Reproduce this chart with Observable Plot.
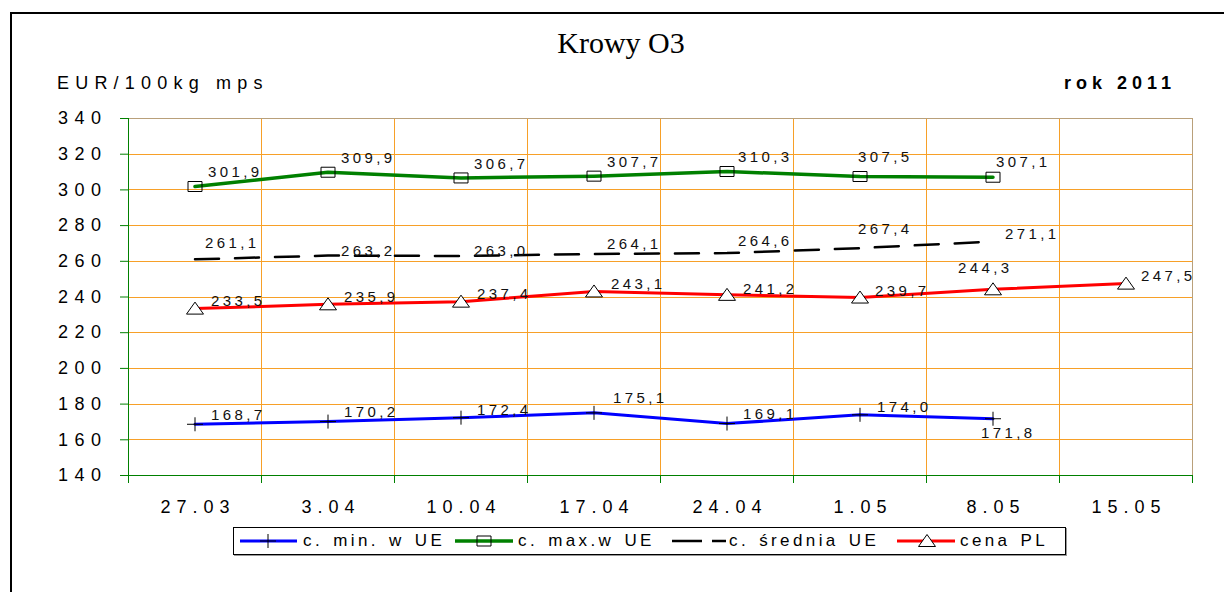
<!DOCTYPE html>
<html><head><meta charset="utf-8">
<script src="https://cdn.jsdelivr.net/npm/d3@7"></script>
<script src="https://cdn.jsdelivr.net/npm/@observablehq/plot@0.6"></script>
<style>
body{margin:0;background:#fff;}
#wrap{position:relative;width:1224px;height:592px;overflow:hidden;font-family:"Liberation Sans",Arial,sans-serif;color:#000;}
#frame{position:absolute;left:10px;top:12px;width:1400px;height:800px;border-left:2px solid #000;border-top:2px solid #000;}
#chart{position:absolute;left:0;top:0;}
#title{position:absolute;left:0;width:1242px;top:26px;text-align:center;font-family:"Liberation Serif","Times New Roman",serif;font-size:30px;}
#unit{position:absolute;left:57px;top:73px;font-size:18px;letter-spacing:6.2px;}
#year{position:absolute;right:48px;top:73px;font-size:18px;font-weight:bold;letter-spacing:5px;}
#legend{position:absolute;left:233px;top:527px;width:831px;height:26px;border:1px solid #000;box-shadow:1px 1px 0 #999;}
.lt{position:absolute;top:531px;font-size:17px;letter-spacing:3.4px;word-spacing:2px;white-space:pre;}
svg text{font-family:"Liberation Sans",Arial,sans-serif;}
g[aria-label="y-axis tick label"] text{letter-spacing:6.5px;}
g[aria-label="x-axis tick label"] text{letter-spacing:6px;}
g[aria-label="text"] text{letter-spacing:3.4px;}
g[aria-label="rule"] line{shape-rendering:crispEdges;}
</style></head>
<body>
<div id="wrap">
  <div id="chart"></div>
  <div id="frame"></div>
  <div id="title">Krowy O3</div>
  <div id="unit">EUR/100kg mps</div>
  <div id="year">rok 2011</div>
  <div id="legend"></div>
</div>
<script>
// ---- data ----
const categories = ["27.03", "3.04", "10.04", "17.04", "24.04", "1.05", "8.05", "15.05"];
const minUE   = [168.7, 170.2, 172.4, 175.1, 169.1, 174.0, 171.8];
const maxUE   = [301.9, 309.9, 306.7, 307.7, 310.3, 307.5, 307.1];
const avgUE   = [261.1, 263.2, 263.0, 264.1, 264.6, 267.4, 271.1];
const pricePL = [233.5, 235.9, 237.4, 243.1, 241.2, 239.7, 244.3, 247.5];
const yTicks  = [140, 160, 180, 200, 220, 240, 260, 280, 300, 320, 340];
const seriesNames = ["c. min. w UE", "c. max.w UE", "c. średnia UE", "cena PL"];

// ---- rendering ----
const rows = vals => vals.map((v, i) => ({i, cat: categories[i], v}));
const fmt = v => v.toFixed(1).replace(".", ",");
const bounds = d3.range(categories.length + 1).map(i => i - 0.5);
const centers = d3.range(categories.length);

const ORANGE = "#f7a028", TAN = "#b9a07a", GREEN_AX = "#008000";

const plusSym = {draw(c){c.moveTo(-8,0);c.lineTo(8,0);c.moveTo(0,-7);c.lineTo(0,7);}};
const rectSym = {draw(c){c.rect(-7,-5,14,10);}};
const triSym  = {draw(c){c.moveTo(0,-6.5);c.lineTo(8.5,5.5);c.lineTo(-8.5,5.5);c.closePath();}};

const series = [
  {vals: minUE, stroke: "#0000ff", width: 3, sym: plusSym, fill: "none",
   off: [[16,-9],[16,-9],[16,-7],[19,-15],[16,-9],[17,-8],[-12,14]]},
  {vals: maxUE, stroke: "#008000", width: 3.5, sym: rectSym, fill: "none",
   off: [[13,-14],[13,-14],[13,-14],[13,-14],[11,-14],[-2,-19],[3,-15]]},
  {vals: avgUE, stroke: "#000", width: 2.5, dash: "24,16", sym: null,
   off: [[10,-16],[13,-4],[13,-5],[13,-10],[11,-12],[-2,-19],[12,-7]]},
  {vals: pricePL, stroke: "#ff0000", width: 3, sym: triSym, fill: "#fff",
   off: [[16,-7],[16,-7],[16,-7],[17,-7],[16,-6],[15,-6],[-35,-21],[15,-7]]}
];

const marks = [
  Plot.ruleY(yTicks.slice(1, -1), {stroke: ORANGE, strokeWidth: 1}),
  Plot.ruleX(bounds.slice(1, -1), {stroke: ORANGE, strokeWidth: 1}),
  Plot.ruleY([yTicks[yTicks.length - 1]], {stroke: TAN, strokeWidth: 1.5}),
  Plot.ruleX([bounds[bounds.length - 1]], {stroke: TAN, strokeWidth: 1.5}),
  Plot.ruleX([bounds[0]], {stroke: GREEN_AX, strokeWidth: 1.2}),
  Plot.ruleY([yTicks[0]], {stroke: GREEN_AX, strokeWidth: 1.2}),
  Plot.axisY({ticks: yTicks, tickSize: 8, tickPadding: 13, stroke: GREEN_AX, fill: "#000", fontSize: 18, tickFormat: d => String(d)}),
  Plot.axisX({ticks: bounds, tickSize: 8, stroke: GREEN_AX, tickFormat: () => ""}),
  Plot.axisX({ticks: centers, tickSize: 0, tickPadding: 25, fill: "#000", fontSize: 18, dx: 3, tickFormat: i => categories[i]})
];

for (const s of series) {
  const data = rows(s.vals);
  marks.push(Plot.line(data, {x: "i", y: "v", stroke: s.stroke, strokeWidth: s.width, strokeDasharray: s.dash, strokeLinejoin: "round"}));
}
for (const s of series) {
  const data = rows(s.vals);
  if (s.sym) marks.push(Plot.dot(data, {x: "i", y: "v", symbol: s.sym, stroke: "#000", strokeWidth: 1, fill: s.fill, r: 5}));
  data.forEach((d, k) => {
    const [dx, dy] = s.off[k];
    marks.push(Plot.text([d], {x: "i", y: "v", text: d => fmt(d.v), dx, dy, textAnchor: "start", fontSize: 15, fill: "#111"}));
  });
}

const chart = Plot.plot({
  width: 1224, height: 592,
  marginLeft: 128, marginRight: 32, marginTop: 118, marginBottom: 117,
  x: {type: "linear", domain: [bounds[0], bounds[bounds.length - 1]], label: null},
  y: {domain: [yTicks[0], yTicks[yTicks.length - 1]], label: null},
  style: {background: "transparent", fontFamily: "Liberation Sans, Arial, sans-serif", color: "#000"},
  marks
});
document.getElementById("chart").appendChild(chart);

// ---- legend ----
const wrap = document.getElementById("wrap");
const legendItems = [
  {x0: 240, x1: 297, mx: 268, textX: 303, stroke: "#0000ff", w: 3, sym: "plus"},
  {x0: 455, x1: 513, mx: 484, textX: 518, stroke: "#008000", w: 3.5, sym: "rect"},
  {x0: 672, x1: 726, mx: 0, textX: 729, stroke: "#000", w: 2.5, sym: null, dash: "30,10"},
  {x0: 897, x1: 955, mx: 927, textX: 960, stroke: "#ff0000", w: 3, sym: "tri"}
];
const ns = "http://www.w3.org/2000/svg";
const lsvg = document.createElementNS(ns, "svg");
lsvg.setAttribute("width", 1224); lsvg.setAttribute("height", 592);
lsvg.style.position = "absolute"; lsvg.style.left = "0"; lsvg.style.top = "0";
const cy = 541;
legendItems.forEach((it, k) => {
  const ln = document.createElementNS(ns, "line");
  ln.setAttribute("x1", it.x0); ln.setAttribute("x2", it.x1);
  ln.setAttribute("y1", cy); ln.setAttribute("y2", cy);
  ln.setAttribute("stroke", it.stroke); ln.setAttribute("stroke-width", it.w);
  if (it.dash) ln.setAttribute("stroke-dasharray", it.dash);
  lsvg.appendChild(ln);
  if (it.sym) {
    const p = document.createElementNS(ns, "path");
    let d;
    if (it.sym === "plus") d = `M${it.mx-8},${cy}H${it.mx+8}M${it.mx},${cy-7}V${cy+7}`;
    if (it.sym === "rect") d = `M${it.mx-7},${cy-5}h14v10h-14z`;
    if (it.sym === "tri") d = `M${it.mx},${cy-6.5}L${it.mx+8.5},${cy+5.5}L${it.mx-8.5},${cy+5.5}z`;
    p.setAttribute("d", d);
    p.setAttribute("stroke", "#000"); p.setAttribute("stroke-width", 1);
    p.setAttribute("fill", it.sym === "tri" ? "#fff" : "none");
    lsvg.appendChild(p);
  }
  const t = document.createElement("div");
  t.className = "lt"; t.style.left = it.textX + "px";
  t.textContent = seriesNames[k];
  wrap.appendChild(t);
});
wrap.appendChild(lsvg);
</script>
</body></html>
